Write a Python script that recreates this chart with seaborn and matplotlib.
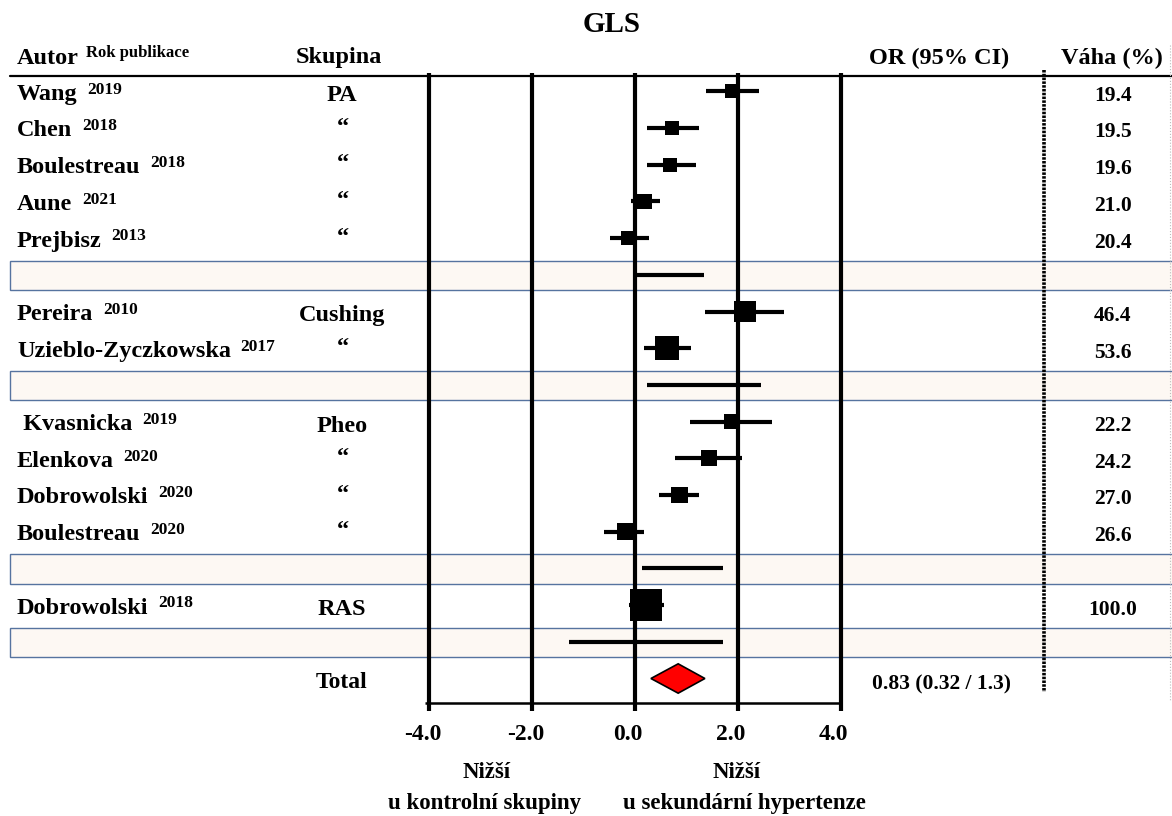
"""
Forest plot GLS – sekundární hypertenze vs. kontrolní skupina
"""
import numpy as np
import pandas as pd
import matplotlib
matplotlib.use("Agg")
import matplotlib.pyplot as plt
import matplotlib.patches as mpatches
import seaborn as sns

# ── 1. Data ───────────────────────────────────────────────────────────────────
autori = ["Wang", "Chen", "Boulestreau", "Aune", "Prejbisz",
          "Pereira", "Uzieblo-Zyczkowska",
          " Kvasnicka", "Elenkova", "Dobrowolski", "Boulestreau",
          "Dobrowolski"]
roky = ["2019", "2018", "2018", "2021", "2013",
        "2010", "2017",
        "2019", "2020", "2020", "2020",
        "2018"]
skupiny = ["PA"] * 5 + ["Cushing"] * 2 + ["Pheo"] * 4 + ["RAS"]
odhad    = [1.89, 0.72, 0.68, 0.19, -0.14, 2.14, 0.62, 1.87, 1.44, 0.86, -0.19, 0.21]
ci_dolni = [1.38, 0.23, 0.23, -0.08, -0.49, 1.36, 0.18, 1.07, 0.78, 0.47, -0.60, -0.12]
ci_horni = [2.42, 1.25, 1.19, 0.49, 0.27, 2.90, 1.09, 2.67, 2.08, 1.25, 0.18, 0.56]
vaha     = [19.4, 19.5, 19.6, 21.0, 20.4, 46.4, 53.6, 22.2, 24.2, 27.0, 26.6, 100.0]

podskupiny = ["PA", "Cushing", "Pheo", "RAS"]
pod_dolni  = [0.02, 0.23, 0.14, -1.28]
pod_horni  = [1.34, 2.45, 1.71, 1.71]

celkem_dolni, celkem_odhad, celkem_horni = 0.31, 0.84, 1.36
celkem_text = "0.83 (0.32 / 1.3)"
osa_ticks = [-4.0, -2.0, 0.0, 2.0, 4.0]

# ── 2. Row layout (each group followed by its subtotal row) ──────────────────
rows, sub_rows = [], []
r = 0
for g in podskupiny:
    n = skupiny.count(g)
    rows += list(range(r, r + n))
    r += n
    sub_rows.append(r)
    r += 1
total_row = r

df = pd.DataFrame({"odhad": odhad, "row": rows, "vaha": vaha})

# ── 3. Figure ─────────────────────────────────────────────────────────────────
sns.set_theme(style="white")
plt.rcParams["font.family"] = ["Liberation Serif", "DejaVu Serif"]
plt.rcParams["font.weight"] = "bold"
plt.rcParams["text.color"] = "black"

W, H = 1172, 816
X0, UNIT = 635, 51.4     # pixel of 0.0, pixels per unit
Y0, ROW = 91.3, 36.7     # pixel of first row, pixels per row

fig = plt.figure(figsize=(W / 100, H / 100), dpi=100)
ax = fig.add_axes([0, 0, 1, 1])
yt = ax.get_yaxis_transform()   # x: axes fraction, y: rows

fx = lambda px: px / W
ry = lambda py: (py - Y0) / ROW

# subtotal bands
for sr in sub_rows:
    ax.add_patch(mpatches.Rectangle((fx(10), sr - 0.38), 1.0, 0.8, transform=yt,
                                    facecolor="#FDF8F3", edgecolor="#56739F",
                                    lw=1.0, zorder=1))

# header rule, scale lines, bottom axis line
ax.plot([fx(10), 1.0], [ry(76), ry(76)], transform=yt, color="black", lw=1.6, zorder=2)
ax.vlines(osa_ticks, ry(73), ry(711), colors="black", lw=3, zorder=2)
ax.hlines(ry(703), osa_ticks[0] - 0.08, osa_ticks[-1], colors="black", lw=1.8, zorder=2)

# dotted separator before weights
ax.plot([fx(1044), fx(1044)], [ry(70), ry(692)], transform=yt, color="black",
        lw=2.6, linestyle=(0, (0.7, 0.35)), zorder=2)
ax.plot([fx(1170), fx(1170)], [ry(45), ry(700)], transform=yt, color="#BBBBBB",
        lw=0.8, linestyle=":", zorder=2)

# confidence intervals
ax.hlines(rows, ci_dolni, ci_horni, colors="black", lw=3, zorder=3)
ax.hlines(sub_rows, pod_dolni, pod_horni, colors="black", lw=3, zorder=3)

# study markers, area ~ weight
sns.scatterplot(data=df, x="odhad", y="row", size="vaha", sizes=(103, 530),
                marker="s", color="black", edgecolor="none", linewidth=0,
                legend=False, ax=ax, zorder=4)

# pooled diamond
ax.fill([celkem_dolni, celkem_odhad, celkem_horni, celkem_odhad],
        [total_row, total_row - 0.4, total_row, total_row + 0.4],
        facecolor="red", edgecolor="black", lw=1.2, zorder=4)

ax.set_xlim(-X0 / UNIT, (W - X0) / UNIT)
ax.set_ylim((H - Y0) / ROW, -Y0 / ROW)
ax.axis("off")

# ── 4. Texts ──────────────────────────────────────────────────────────────────
ax.text(fx(612), ry(25), "GLS", transform=yt, ha="center", va="center", fontsize=21)

hdr = ax.text(fx(17), ry(58), "Autor", transform=yt, ha="left", va="center", fontsize=17.5)
ax.annotate("Rok publikace", xy=(1, 1), xycoords=hdr, xytext=(5, 2),
            textcoords="offset points", ha="left", va="top", fontsize=12)
ax.text(fx(339), ry(58), "Skupina", transform=yt, ha="center", va="center", fontsize=17.5)
ax.text(fx(939), ry(58), "OR (95% CI)", transform=yt, ha="center", va="center", fontsize=17.5)
ax.text(fx(1112), ry(58), "Váha (%)", transform=yt, ha="center", va="center", fontsize=17.5)

prev = None
for name, rok, g, w, row in zip(autori, roky, skupiny, vaha, rows):
    t = ax.text(fx(17), row + 0.08, name, transform=yt, ha="left", va="center", fontsize=17.5)
    ax.annotate(rok, xy=(1, 1), xycoords=t, xytext=(7, 1.5),
                textcoords="offset points", ha="left", va="top", fontsize=12.5)
    if g != prev:
        ax.text(fx(342), row + 0.12, g, transform=yt, ha="center", va="center", fontsize=17.5)
    else:
        ax.text(fx(343), row - 0.02, "\u201c", transform=yt, ha="center", va="center", fontsize=17.5)
    prev = g
    ax.text(fx(1113), row + 0.12, f"{w:.1f}", transform=yt, ha="center", va="center",
            fontsize=15.5)

ax.text(fx(342), ry(682), "Total", transform=yt, ha="center", va="center", fontsize=17)
ax.text(fx(941), ry(684), celkem_text, transform=yt, ha="center", va="center", fontsize=15.5)

for t in osa_ticks:
    ax.annotate(f"{t:.1f}", xy=(t, ry(735)), xytext=(-5, 0), textcoords="offset points",
                ha="center", va="center", fontsize=17)

ax.text(fx(487), ry(772), "Nižší", transform=yt, ha="center", va="center", fontsize=16.5)
ax.text(fx(485), ry(803), "u kontrolní skupiny", transform=yt, ha="center", va="center", fontsize=16.5)
ax.text(fx(737), ry(772), "Nižší", transform=yt, ha="center", va="center", fontsize=16.5)
ax.text(fx(744), ry(803), "u sekundární hypertenze", transform=yt, ha="center", va="center", fontsize=16.5)

fig.savefig("out.png", dpi=100)
